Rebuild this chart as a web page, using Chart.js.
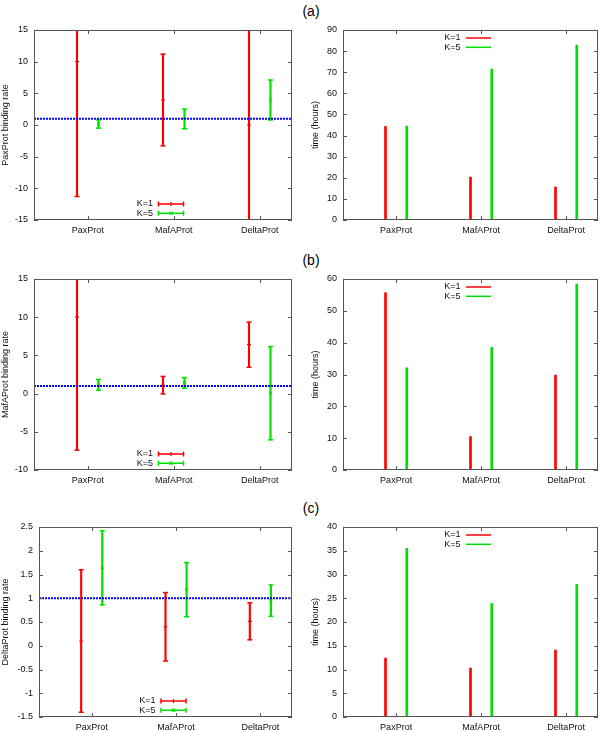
<!DOCTYPE html>
<html lang="en">
<head>
<meta charset="UTF-8" />
<title>Binding rates and times</title>
<script src="https://cdn.jsdelivr.net/npm/chart.js"></script>
<style>
  body { margin: 0; background: #fff; font-family: "Liberation Sans", Arial, sans-serif; }
  .fig { position: relative; width: 600px; height: 732px; overflow: hidden; }
  .fig canvas { position: absolute; }
  .tag { position: absolute; left: 291px; width: 40px; text-align: center; font-size: 14px; line-height: 16px; color: #000; }
</style>
</head>
<body>
<div class="fig">
  <div class="tag" style="top:3px">(a)</div>
  <div class="tag" style="top:252px">(b)</div>
  <div class="tag" style="top:500px">(c)</div>
  <canvas id="rateA" width="300" height="240" style="left:0;top:0"></canvas>
  <canvas id="timeA" width="300" height="240" style="left:300px;top:0"></canvas>
  <canvas id="rateB" width="300" height="241" style="left:0;top:249px"></canvas>
  <canvas id="timeB" width="300" height="241" style="left:300px;top:249px"></canvas>
  <canvas id="rateC" width="300" height="240" style="left:0;top:497px"></canvas>
  <canvas id="timeC" width="300" height="240" style="left:300px;top:497px"></canvas>
</div>
<script>
  const proteins = ['PaxProt', 'MafAProt', 'DeltaProt'];
  const seriesNames = ['K=1', 'K=5'];
  const neutralRate = 1;

  // (a) PaxProt: binding rate (centre, half error bar) and time in hours
  const paxRateK1 = [10, 3.95, 0];
  const paxErrK1 = [21.3, 7.25, 20];
  const paxRateK5 = [0.15, 0.95, 3.95];
  const paxErrK5 = [0.65, 1.55, 3.15];
  const paxTimeK1 = [44.3, 20.3, 15.6];
  const paxTimeK5 = [44.5, 71.5, 82.8];

  // (b) MafAProt
  const mafRateK1 = [10, 1.1, 6.4];
  const mafErrK1 = [17.4, 1.15, 2.95];
  const mafRateK5 = [1.15, 1.4, 0.05];
  const mafErrK5 = [0.7, 0.7, 6.1];
  const mafTimeK1 = [55.7, 10.5, 29.8];
  const mafTimeK5 = [32.1, 38.5, 58.4];

  // (c) DeltaProt
  const deltaRateK1 = [0.1, 0.4, 0.515];
  const deltaErrK1 = [1.5, 0.72, 0.39];
  const deltaRateK5 = [1.64, 1.18, 0.95];
  const deltaErrK5 = [0.78, 0.57, 0.33];
  const deltaTimeK1 = [12.4, 10.3, 14.1];
  const deltaTimeK5 = [35.5, 23.9, 27.9];

  // y axis: min, max, step
  const paxRateAxis = [-15, 15, 5];
  const mafRateAxis = [-10, 15, 5];
  const deltaRateAxis = [-1.5, 2.5, 0.5];
  const paxTimeAxis = [0, 90, 10];
  const mafTimeAxis = [0, 60, 10];
  const deltaTimeAxis = [0, 40, 5];

  const seriesColors = ['#ff0000', '#00e000'];
  const xLimits = [0.375, 3.375];
  const barShift = 0.125;

  Chart.defaults.font.family = '"Liberation Sans", Arial, sans-serif';
  Chart.defaults.font.size = 9;
  Chart.defaults.color = '#111';

  const tickFmt = v => String(+v.toFixed(2));

  // gnuplot style border with inward ticks
  const framePlugin = {
    id: 'frame',
    afterDatasetsDraw(chart) {
      const { ctx, chartArea: a, scales: { x, y } } = chart;
      ctx.save();
      ctx.strokeStyle = '#555';
      ctx.lineWidth = 1;
      ctx.strokeRect(a.left + 0.5, a.top + 0.5, a.right - a.left - 1, a.bottom - a.top - 1);
      ctx.beginPath();
      y.ticks.forEach(t => {
        const py = Math.round(y.getPixelForValue(t.value)) + 0.5;
        ctx.moveTo(a.left, py); ctx.lineTo(a.left + 4, py);
        ctx.moveTo(a.right, py); ctx.lineTo(a.right - 4, py);
      });
      x.ticks.forEach(t => {
        const px = Math.round(x.getPixelForValue(t.value)) + 0.5;
        ctx.moveTo(px, a.bottom); ctx.lineTo(px, a.bottom - 4);
        ctx.moveTo(px, a.top); ctx.lineTo(px, a.top + 4);
      });
      ctx.stroke();
      ctx.restore();
    }
  };

  // key drawn inside the plot like gnuplot does
  const keyPlugin = {
    id: 'gpKey',
    afterDraw(chart, args, opts) {
      const { ctx, chartArea: a } = chart;
      const cx = (a.left + a.right) / 2;
      const y0 = opts.anchor === 'bottom' ? a.bottom + opts.dy : a.top + opts.dy;
      ctx.save();
      ctx.font = '9px "Liberation Sans", Arial, sans-serif';
      ctx.textAlign = 'right';
      ctx.textBaseline = 'middle';
      seriesNames.forEach((name, i) => {
        const y = y0 + i * 9.3;
        const x1 = cx - 4.5, x2 = cx + 20.5, m = (x1 + x2) / 2;
        ctx.fillStyle = '#111';
        ctx.fillText(name, cx - 10, y);
        ctx.strokeStyle = seriesColors[i];
        ctx.lineWidth = 1.5;
        ctx.beginPath();
        ctx.moveTo(x1, y); ctx.lineTo(x2, y);
        if (opts.errbars) {
          ctx.moveTo(x1, y - 2.5); ctx.lineTo(x1, y + 2.5);
          ctx.moveTo(x2, y - 2.5); ctx.lineTo(x2, y + 2.5);
        }
        ctx.stroke();
        if (opts.errbars) {
          ctx.lineWidth = 1.2;
          ctx.beginPath();
          if (i === 0) {
            ctx.moveTo(m, y - 2); ctx.lineTo(m, y + 2);
          } else {
            ctx.moveTo(m - 1.6, y - 1.6); ctx.lineTo(m + 1.6, y + 1.6);
            ctx.moveTo(m + 1.6, y - 1.6); ctx.lineTo(m - 1.6, y + 1.6);
          }
          ctx.stroke();
        }
      });
      ctx.restore();
    }
  };

  function options(range, title, yWidth, padRight, titlePad, key) {
    return {
      responsive: false,
      animation: false,
      events: [],
      layout: { padding: { top: 30, right: padRight, left: 0, bottom: 0 } },
      plugins: { legend: { display: false }, tooltip: { enabled: false }, gpKey: key },
      scales: {
        x: {
          type: 'linear', min: xLimits[0], max: xLimits[1], offset: false,
          grid: { display: false, drawTicks: false }, border: { display: false },
          afterBuildTicks: s => { s.ticks = proteins.map((p, i) => ({ value: i + 1 })); },
          ticks: { callback: v => proteins[Math.round(v) - 1], padding: 5, maxRotation: 0, autoSkip: false },
          afterFit: s => { s.height = 20; }
        },
        y: {
          type: 'linear', min: range[0], max: range[1],
          grid: { display: false, drawTicks: false }, border: { display: false },
          ticks: { stepSize: range[2], padding: 6, callback: tickFmt },
          title: { display: true, text: title, padding: { top: titlePad, bottom: 0 } },
          afterFit: s => { s.width = yWidth; }
        }
      }
    };
  }

  function errSets(rates, errs, shift, color, marker) {
    const px = i => i + 1 + shift;
    return [
      {
        type: 'bar', grouped: false, barThickness: 1.5, maxBarThickness: 1.5,
        backgroundColor: color,
        data: rates.map((v, i) => ({ x: px(i), y: [v - errs[i], v + errs[i]] }))
      },
      {
        type: 'scatter', pointStyle: 'line', pointRadius: 2.5, borderColor: color, borderWidth: 1.5,
        data: rates.flatMap((v, i) => [{ x: px(i), y: v - errs[i] }, { x: px(i), y: v + errs[i] }])
      },
      {
        type: 'scatter', pointStyle: marker, pointRadius: 2, borderColor: color, borderWidth: 1.2,
        data: rates.map((v, i) => ({ x: px(i), y: v }))
      }
    ];
  }

  function rateChart(id, k1, e1, k5, e5, range, title, yWidth) {
    new Chart(document.getElementById(id), {
      type: 'scatter',
      data: {
        datasets: [
          {
            type: 'scatter', showLine: true, borderColor: '#0000ff', borderWidth: 2, borderDash: [2, 1], pointRadius: 0,
            data: [{ x: xLimits[0], y: neutralRate }, { x: xLimits[1], y: neutralRate }]
          },
          ...errSets(k1, e1, -barShift, seriesColors[0], 'cross'),
          ...errSets(k5, e5, barShift, seriesColors[1], 'crossRot')
        ]
      },
      options: options(range, title, yWidth, 8, 0, { errbars: true, anchor: 'bottom', dy: -16 }),
      plugins: [framePlugin, keyPlugin]
    });
  }

  function timeChart(id, k1, k5, range) {
    const bars = (vals, shift, color) => ({
      type: 'bar', grouped: false, barThickness: 2, maxBarThickness: 2, backgroundColor: color,
      data: vals.map((v, i) => ({ x: i + 1 + shift, y: v }))
    });
    new Chart(document.getElementById(id), {
      type: 'scatter',
      data: { datasets: [bars(k1, -barShift, seriesColors[0]), bars(k5, barShift, seriesColors[1])] },
      options: options(range, 'time (hours)', 43, 2, 10.6, { errbars: false, anchor: 'top', dy: 8 }),
      plugins: [framePlugin, keyPlugin]
    });
  }

  rateChart('rateA', paxRateK1, paxErrK1, paxRateK5, paxErrK5, paxRateAxis, 'PaxProt binding rate', 34);
  timeChart('timeA', paxTimeK1, paxTimeK5, paxTimeAxis);
  rateChart('rateB', mafRateK1, mafErrK1, mafRateK5, mafErrK5, mafRateAxis, 'MafAProt binding rate', 34);
  timeChart('timeB', mafTimeK1, mafTimeK5, mafTimeAxis);
  rateChart('rateC', deltaRateK1, deltaErrK1, deltaRateK5, deltaErrK5, deltaRateAxis, 'DeltaProt binding rate', 39);
  timeChart('timeC', deltaTimeK1, deltaTimeK5, deltaTimeAxis);
</script>
</body>
</html>
